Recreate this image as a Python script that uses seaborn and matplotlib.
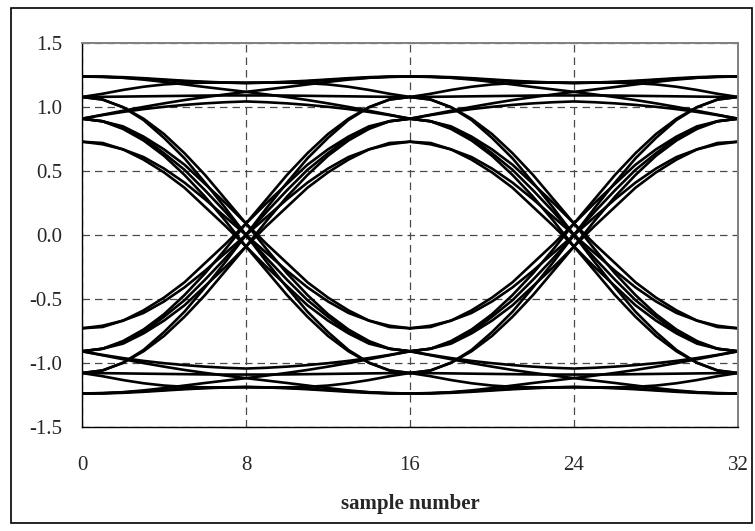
import pandas as pd
import matplotlib.pyplot as plt
import seaborn as sns
from matplotlib.patches import Rectangle
from matplotlib.ticker import MultipleLocator, FormatStrFormatter

OUTPUT_FILE = "out.png"

# one symbol = 16 samples, each segment goes from one symbol instant to the next
segment_samples = list(range(17))
symbol_starts = [0, 16]

# --- segments that stay on the upper rail ---
hi_124_124 = [1.24, 1.24, 1.235, 1.227, 1.217, 1.207, 1.199, 1.193, 1.19, 1.193, 1.199, 1.207, 1.217, 1.227, 1.235, 1.24, 1.24]
hi_108_124 = [1.08, 1.105, 1.135, 1.16, 1.178, 1.188, 1.192, 1.192, 1.19, 1.192, 1.196, 1.203, 1.212, 1.222, 1.231, 1.237, 1.24]
hi_124_108 = [1.24, 1.237, 1.231, 1.222, 1.212, 1.203, 1.196, 1.192, 1.19, 1.192, 1.192, 1.188, 1.178, 1.16, 1.135, 1.105, 1.08]
hi_108_108 = [1.08, 1.081, 1.083, 1.085, 1.087, 1.089, 1.091, 1.092, 1.092, 1.092, 1.091, 1.089, 1.087, 1.085, 1.083, 1.081, 1.08]
hi_124_091 = [1.24, 1.238, 1.23, 1.216, 1.198, 1.178, 1.158, 1.139, 1.12, 1.10, 1.079, 1.056, 1.03, 1.002, 0.972, 0.941, 0.91]
hi_091_124 = [0.91, 0.941, 0.972, 1.002, 1.03, 1.056, 1.079, 1.10, 1.12, 1.139, 1.158, 1.178, 1.198, 1.216, 1.23, 1.238, 1.24]
hi_091_091 = [0.91, 0.938, 0.963, 0.985, 1.003, 1.018, 1.03, 1.039, 1.045, 1.039, 1.03, 1.018, 1.003, 0.985, 0.963, 0.938, 0.91]

# --- segments that stay on the lower rail ---
lo_124_124 = [-1.24, -1.24, -1.235, -1.227, -1.217, -1.207, -1.199, -1.193, -1.19, -1.193, -1.199, -1.207, -1.217, -1.227, -1.235, -1.24, -1.24]
lo_108_124 = [-1.08, -1.105, -1.135, -1.16, -1.178, -1.188, -1.192, -1.192, -1.19, -1.192, -1.196, -1.203, -1.212, -1.222, -1.231, -1.237, -1.24]
lo_124_108 = [-1.24, -1.237, -1.231, -1.222, -1.212, -1.203, -1.196, -1.192, -1.19, -1.192, -1.192, -1.188, -1.178, -1.16, -1.135, -1.105, -1.08]
lo_108_108 = [-1.08, -1.081, -1.083, -1.085, -1.087, -1.089, -1.091, -1.092, -1.092, -1.092, -1.091, -1.089, -1.087, -1.085, -1.083, -1.081, -1.08]
lo_124_091 = [-1.24, -1.238, -1.23, -1.216, -1.198, -1.178, -1.158, -1.139, -1.12, -1.10, -1.079, -1.056, -1.03, -1.002, -0.972, -0.941, -0.91]
lo_091_124 = [-0.91, -0.941, -0.972, -1.002, -1.03, -1.056, -1.079, -1.10, -1.12, -1.139, -1.158, -1.178, -1.198, -1.216, -1.23, -1.238, -1.24]
lo_091_091 = [-0.91, -0.938, -0.963, -0.985, -1.003, -1.018, -1.03, -1.039, -1.045, -1.039, -1.03, -1.018, -1.003, -0.985, -0.963, -0.938, -0.91]

# --- falling transitions ---
fall_108_108 = [1.08, 1.06, 1.00, 0.90, 0.76, 0.60, 0.41, 0.21, 0.00, -0.21, -0.41, -0.60, -0.76, -0.90, -1.00, -1.06, -1.08]
fall_108_091 = [1.08, 1.06, 1.00, 0.91, 0.79, 0.64, 0.47, 0.28, 0.09, -0.11, -0.30, -0.47, -0.62, -0.74, -0.83, -0.89, -0.91]
fall_091_108 = [0.91, 0.89, 0.83, 0.74, 0.62, 0.47, 0.30, 0.11, -0.09, -0.28, -0.47, -0.64, -0.79, -0.91, -1.00, -1.06, -1.08]
fall_091_091 = [0.91, 0.89, 0.84, 0.76, 0.64, 0.51, 0.35, 0.18, 0.00, -0.18, -0.35, -0.51, -0.64, -0.76, -0.84, -0.89, -0.91]
fall_073_073 = [0.73, 0.72, 0.67, 0.61, 0.52, 0.41, 0.28, 0.14, 0.00, -0.14, -0.28, -0.41, -0.52, -0.61, -0.67, -0.72, -0.73]
fall_073_091 = [0.73, 0.71, 0.67, 0.59, 0.49, 0.37, 0.22, 0.07, -0.09, -0.25, -0.40, -0.55, -0.67, -0.77, -0.85, -0.89, -0.91]
fall_091_073 = [0.91, 0.89, 0.85, 0.77, 0.67, 0.55, 0.40, 0.25, 0.09, -0.07, -0.22, -0.37, -0.49, -0.59, -0.67, -0.71, -0.73]

# --- rising transitions ---
rise_108_108 = [-1.08, -1.06, -1.00, -0.90, -0.76, -0.60, -0.41, -0.21, 0.00, 0.21, 0.41, 0.60, 0.76, 0.90, 1.00, 1.06, 1.08]
rise_108_091 = [-1.08, -1.06, -1.00, -0.91, -0.79, -0.64, -0.47, -0.28, -0.09, 0.11, 0.30, 0.47, 0.62, 0.74, 0.83, 0.89, 0.91]
rise_091_108 = [-0.91, -0.89, -0.83, -0.74, -0.62, -0.47, -0.30, -0.11, 0.09, 0.28, 0.47, 0.64, 0.79, 0.91, 1.00, 1.06, 1.08]
rise_091_091 = [-0.91, -0.89, -0.84, -0.76, -0.64, -0.51, -0.35, -0.18, 0.00, 0.18, 0.35, 0.51, 0.64, 0.76, 0.84, 0.89, 0.91]
rise_073_073 = [-0.73, -0.72, -0.67, -0.61, -0.52, -0.41, -0.28, -0.14, 0.00, 0.14, 0.28, 0.41, 0.52, 0.61, 0.67, 0.72, 0.73]
rise_073_091 = [-0.73, -0.71, -0.67, -0.59, -0.49, -0.37, -0.22, -0.07, 0.09, 0.25, 0.40, 0.55, 0.67, 0.77, 0.85, 0.89, 0.91]
rise_091_073 = [-0.91, -0.89, -0.85, -0.77, -0.67, -0.55, -0.40, -0.25, -0.09, 0.07, 0.22, 0.37, 0.49, 0.59, 0.67, 0.71, 0.73]

segments = {
    "hi_124_124": hi_124_124, "hi_108_124": hi_108_124, "hi_124_108": hi_124_108,
    "hi_108_108": hi_108_108, "hi_124_091": hi_124_091, "hi_091_124": hi_091_124,
    "hi_091_091": hi_091_091,
    "lo_124_124": lo_124_124, "lo_108_124": lo_108_124, "lo_124_108": lo_124_108,
    "lo_108_108": lo_108_108, "lo_124_091": lo_124_091, "lo_091_124": lo_091_124,
    "lo_091_091": lo_091_091,
    "fall_108_108": fall_108_108, "fall_108_091": fall_108_091, "fall_091_108": fall_091_108,
    "fall_091_091": fall_091_091, "fall_073_073": fall_073_073, "fall_073_091": fall_073_091,
    "fall_091_073": fall_091_073,
    "rise_108_108": rise_108_108, "rise_108_091": rise_108_091, "rise_091_108": rise_091_108,
    "rise_091_091": rise_091_091, "rise_073_073": rise_073_073, "rise_073_091": rise_073_091,
    "rise_091_073": rise_091_073,
}


def build_frame():
    rows = []
    for start in symbol_starts:
        for name, values in segments.items():
            for s, v in zip(segment_samples, values):
                rows.append({"trace": f"{name}@{start}", "sample": start + s, "value": v})
    return pd.DataFrame(rows)


def generate_graph():
    df = build_frame()

    sns.set_style("white")
    plt.rcParams["font.family"] = ["Liberation Serif", "DejaVu Serif"]
    plt.rcParams["axes.unicode_minus"] = False

    fig = plt.figure(figsize=(7.55, 5.31), dpi=100)
    ax = fig.add_axes([82 / 755, 1 - 426.7 / 531, (738 - 82) / 755, (426.7 - 43.3) / 531])

    # dashed grid under the traces
    ax.grid(True, which="major", linestyle=(0, (6, 4)), color="#4a4a4a", linewidth=0.9)
    ax.set_axisbelow(True)

    sns.lineplot(data=df, x="sample", y="value", units="trace", estimator=None,
                 sort=False, color="black", linewidth=1.9, ax=ax, legend=False)

    ax.set_xlim(0, 32)
    ax.set_ylim(-1.5, 1.5)
    ax.xaxis.set_major_locator(MultipleLocator(8))
    ax.xaxis.set_minor_locator(MultipleLocator(2))
    ax.yaxis.set_major_locator(MultipleLocator(0.5))
    ax.yaxis.set_minor_locator(MultipleLocator(0.1))
    ax.yaxis.set_major_formatter(FormatStrFormatter("%.1f"))
    ax.tick_params(which="both", direction="in", length=5, width=0.9, color="black",
                   top=False, right=False, labelsize=15)
    ax.tick_params(axis="x", which="major", pad=21)
    ax.tick_params(axis="y", which="major", pad=14)

    ax.set_xlabel("sample number", fontsize=15, fontweight="bold", labelpad=14)
    ax.set_ylabel("")

    for side in ["left", "bottom"]:
        ax.spines[side].set_color("black")
        ax.spines[side].set_linewidth(1.0)
    for side in ["top", "right"]:
        ax.spines[side].set_color("#808080")
        ax.spines[side].set_linewidth(1.4)

    # outer chart border
    fig.patches.append(Rectangle((11 / 755, 1 - 523 / 531), (752 - 11) / 755, (523 - 8) / 531,
                                 transform=fig.transFigure, fill=False,
                                 edgecolor="black", linewidth=1.2))

    fig.savefig(OUTPUT_FILE, dpi=100)


if __name__ == "__main__":
    generate_graph()
